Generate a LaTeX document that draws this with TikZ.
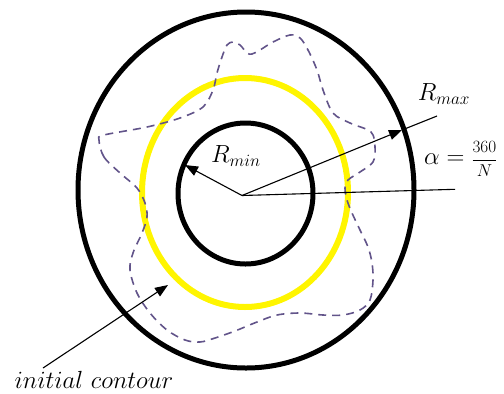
\documentclass[tikz,border=0pt]{standalone}
\usetikzlibrary{arrows.meta}
\definecolor{contourcol}{RGB}{98,84,138}
\definecolor{ringyellow}{RGB}{255,245,0}
\begin{document}
\begin{tikzpicture}[x=1bp,y=-1bp,
  ring/.style={line width=5bp,black},
  thinline/.style={line width=1.1bp,black},
  arr/.style={thinline,-{Triangle[length=13bp,width=10bp]}},
  lbl/.style={inner sep=0pt,font=\fontsize{26}{30}\selectfont}]
\useasboundingbox (0,0) rectangle (504,393);
% rings
\draw[ring] (246,190) ellipse [x radius=168,y radius=178];
\draw[ring] (245.5,193.5) ellipse [x radius=67.5,y radius=70.5];
\draw[line width=6bp,ringyellow] (245,192.5) ellipse [x radius=103,y radius=114.5];
% initial contour
\draw[contourcol,line width=1.6bp,dash pattern=on 8bp off 6bp]
  plot[smooth cycle,tension=0.55] coordinates {
  (99,140) (104,157) (120,173) (137,188) (145,203) (147,217) (142,233)
  (133,253) (130,270) (137,293) (150,313) (167,330) (185,340) (200,342)
  (215,338) (235,331) (257,322) (277,315) (300,313) (323,315) (343,315)
  (360,310) (370,300) (373,280) (372,263) (368,247) (360,230) (352,213)
  (347,200) (345,188) (348,180) (360,172) (373,162) (375,147) (371,132)
  (350,123) (333,113) (323,90) (317,70) (308,50) (300,38) (290,35)
  (273,42) (260,50) (252,54) (247,53) (240,45) (233,42) (227,45)
  (222,57) (217,73) (213,90) (203,107) (180,118) (147,127) (104,135)};
% radii and angle lines
\coordinate (O) at (242,195.5);
\coordinate (rmintip) at (185,165);
\coordinate (rmaxtip) at (402,130);
\coordinate (rmaxend) at (437,116);
\coordinate (alphaend) at (455,189.3);
\coordinate (ictail) at (43,368);
\coordinate (ictip) at (168,285);
\draw[arr] (O) -- (rmintip);
\draw[arr] (O) -- (rmaxtip);
\draw[thinline] (rmaxtip) -- (rmaxend);
\draw[thinline] (O) -- (alphaend);
\draw[arr] (ictail) -- (ictip);
% labels
\node[lbl] (rmin) at (236,156) {$R_{min}$};
\node[lbl] (rmax) at (444,94) {$R_{max}$};
\node[lbl,anchor=west] (alpha) at (424,159)
  {$\alpha={}$\fontsize{19}{22}\selectfont$\displaystyle\frac{360}{N}$};
\node[lbl] (ic) at (94,380) {$initial\ contour$};
\end{tikzpicture}
\end{document}
